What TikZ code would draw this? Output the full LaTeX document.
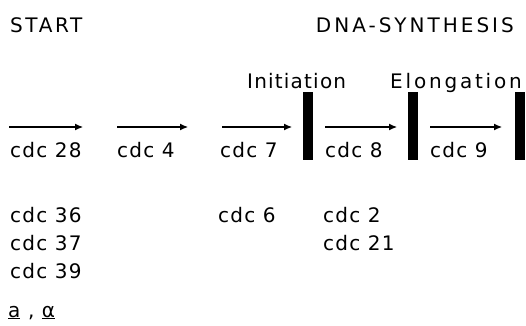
\documentclass[tikz,border=0pt]{standalone}
\usepackage{fontspec}
\setmainfont[LetterSpace=6]{DejaVu Sans}
\usetikzlibrary{arrows.meta}
\begin{document}
\begin{tikzpicture}[x=1pt,y=-1pt,
  lbl/.style={anchor=base west,inner sep=0pt,font=\fontsize{20}{24}\selectfont},
  wide/.style={font=\fontsize{20}{24}\selectfont\addfontfeatures{LetterSpace=#1}},
  bar/.style={fill=black,draw=none,minimum width=10pt,minimum height=68pt,inner sep=0pt},
  flow/.style={line width=1.1pt,-{Latex[length=8pt,width=7pt]}}]
\useasboundingbox (0,0) rectangle (526,325);
\node[lbl,wide=13] (start) at (10,32) {START};
\node[lbl,wide=15,anchor=base east] (dna) at (514,32) {DNA-SYNTHESIS};
\node[lbl] (init) at (247,88) {Initiation};
\node[lbl,wide=14,anchor=base east] (elong) at (522,88) {Elongation};
% bars
\node[bar] (b1) at (308,126) {};
\node[bar] (b2) at (413,126) {};
\node[bar] (b3) at (520,126) {};
% arrows
\coordinate (a1s) at (9,127);   \coordinate (a1e) at (83,127);
\coordinate (a2s) at (117,127); \coordinate (a2e) at (188,127);
\coordinate (a3s) at (222,127); \coordinate (a3e) at (292,127);
\coordinate (a4s) at (325,127); \coordinate (a4e) at (397,127);
\coordinate (a5s) at (430,127); \coordinate (a5e) at (502,127);
\draw[flow] (a1s) -- (a1e);
\draw[flow] (a2s) -- (a2e);
\draw[flow] (a3s) -- (a3e);
\draw[flow] (a4s) -- (a4e);
\draw[flow] (a5s) -- (a5e);
% row 1
\node[lbl] (c28) at (10,157) {cdc 28};
\node[lbl] (c4) at (117,157) {cdc 4};
\node[lbl] (c7) at (220,157) {cdc 7};
\node[lbl] (c8) at (325,157) {cdc 8};
\node[lbl] (c9) at (430,157) {cdc 9};
% lower rows
\node[lbl] (c36) at (10,222) {cdc 36};
\node[lbl] (c6) at (218,222) {cdc 6};
\node[lbl] (c2) at (323,222) {cdc 2};
\node[lbl] (c37) at (10,250) {cdc 37};
\node[lbl] (c21) at (323,250) {cdc 21};
\node[lbl] (c39) at (10,278) {cdc 39};
\node[lbl] (mat) at (8,317) {\underline{a} , \underline{α}};
\end{tikzpicture}
\end{document}
